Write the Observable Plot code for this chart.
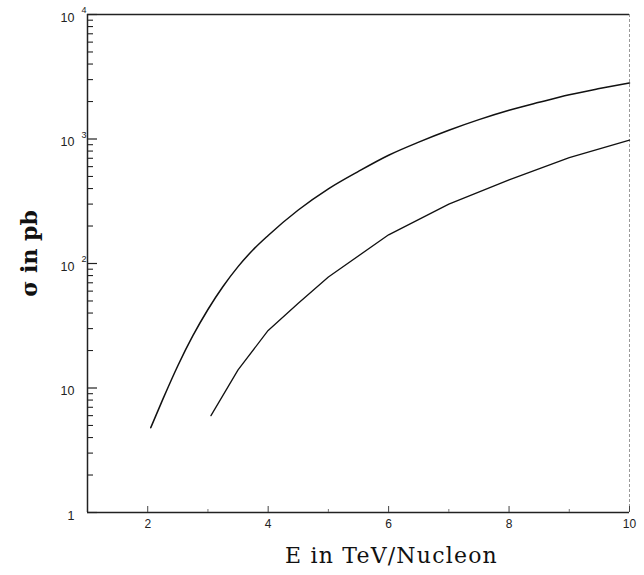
<!DOCTYPE html>
<html>
<head>
<meta charset="utf-8">
<script src="https://cdn.jsdelivr.net/npm/d3@7"></script>
<script src="https://cdn.jsdelivr.net/npm/@observablehq/plot@0.6"></script>
<style>
  html, body { margin: 0; padding: 0; background: #fff; }
</style>
</head>
<body>
<div id="chart"></div>
<script>
// Upper curve
const upperE     = [2.05, 2.25, 2.5,  2.75, 3.0,  3.25, 3.5,  3.75, 4.0, 4.5, 5.0, 5.5, 6.0, 6.5, 7.0,  7.5,  8.0,  8.5,  9.0,  9.5,  10.0];
const upperSigma = [4.8,  8.1,  15.1, 26.3, 42.7, 65.3, 94.4, 129,  168, 269, 398, 550, 741, 944, 1175, 1430, 1700, 1970, 2265, 2540, 2820];
// Lower curve
const lowerE     = [3.05, 3.5, 4.0, 4.5, 5.0, 6.0, 7.0, 8.0, 9.0, 10.0];
const lowerSigma = [6,    14,  29,  48,  78,  170, 300, 470, 710, 980];

// Axis ticks and labels
const yMajorTicks = [1, 10, 100, 1000, 10000];
const yTickBase   = ["1", "10", "10", "10", "10"];
const yTickExp    = ["", "", "2", "3", "4"];
const yMinorTicks = [2,3,4,5,6,7,8,9, 20,30,40,50,60,70,80,90, 200,300,400,500,600,700,800,900, 2000,3000,4000,5000,6000,7000,8000,9000];
const xMajorTicks = [2, 4, 6, 8, 10];
const xMinorTicks = [3, 5, 7, 9];
const xTitle = ["E in TeV/Nucleon"];
const yTitle = ["σ in pb"];

const W = 644, H = 575;
const mL = 87, mR = 15, mT = 14, mB = 63;
const plotW = W - mL - mR, plotH = H - mT - mB;

const upper = upperE.map((e, i) => ({e, s: upperSigma[i]}));
const lower = lowerE.map((e, i) => ({e, s: lowerSigma[i]}));
const yLab = yMajorTicks.map((v, i) => ({v, base: yTickBase[i], exp: yTickExp[i]}));

const chart = Plot.plot({
  width: W, height: H,
  marginLeft: mL, marginRight: mR, marginTop: mT, marginBottom: mB,
  style: {fontFamily: "'Liberation Sans', Arial, sans-serif", background: "#fff", color: "#222"},
  x: {domain: [1, 10], axis: null},
  y: {type: "log", domain: [1, 10000], axis: null},
  marks: [
    // frame
    Plot.ruleX([10], {stroke: "#999", strokeWidth: 1, strokeDasharray: "3,2"}),
    Plot.ruleY([10000], {stroke: "#222", strokeWidth: 1.3}),
    Plot.ruleX([1], {stroke: "#222", strokeWidth: 1.5}),
    Plot.ruleY([1], {stroke: "#222", strokeWidth: 1.5}),
    // inward ticks
    Plot.tickY(yMajorTicks, {y: d => d, insetRight: plotW - 10, stroke: "#222", strokeWidth: 1.2}),
    Plot.tickY(yMinorTicks, {y: d => d, insetRight: plotW - 6, stroke: "#222", strokeWidth: 1.1}),
    Plot.tickX(xMajorTicks, {x: d => d, insetTop: plotH - 6, stroke: "#444", strokeWidth: 1}),
    Plot.tickX(xMinorTicks, {x: d => d, insetTop: plotH - 3, stroke: "#777", strokeWidth: 1}),
    // tick labels
    Plot.text(yLab, {x: 1, y: "v", text: "base", textAnchor: "end", dx: -13, dy: 3, fontSize: 12.5, fill: "#222"}),
    Plot.text(yLab, {x: 1, y: "v", text: "exp", textAnchor: "start", dx: -6, dy: -4, fontSize: 9, fill: "#222"}),
    Plot.text(xMajorTicks, {x: d => d, y: 1, text: d => String(d), dy: 12, fontSize: 12, fill: "#222"}),
    // titles
    Plot.text(xTitle, {frameAnchor: "bottom", text: d => d, textAnchor: "middle", lineAnchor: "middle", dx: 33, dy: 43, fontSize: 22, fontFamily: "'DejaVu Serif', 'Liberation Serif', serif", fill: "#111"}),
    Plot.text(yTitle, {frameAnchor: "left", text: d => d, textAnchor: "middle", lineAnchor: "middle", rotate: -90, dx: -58, dy: -10, fontSize: 22, fontWeight: "bold", fontFamily: "'DejaVu Serif', 'Liberation Serif', serif", fill: "#111"}),
    // curves
    Plot.line(upper, {x: "e", y: "s", curve: "monotone-x", stroke: "#111", strokeWidth: 1.5}),
    Plot.line(lower, {x: "e", y: "s", curve: "linear", stroke: "#111", strokeWidth: 1.3})
  ]
});
d3.select(chart).selectAll("text")
  .filter(function() { return this.textContent === xTitle[0]; })
  .attr("letter-spacing", "1.2px");
document.getElementById("chart").appendChild(chart);
</script>
</body>
</html>
